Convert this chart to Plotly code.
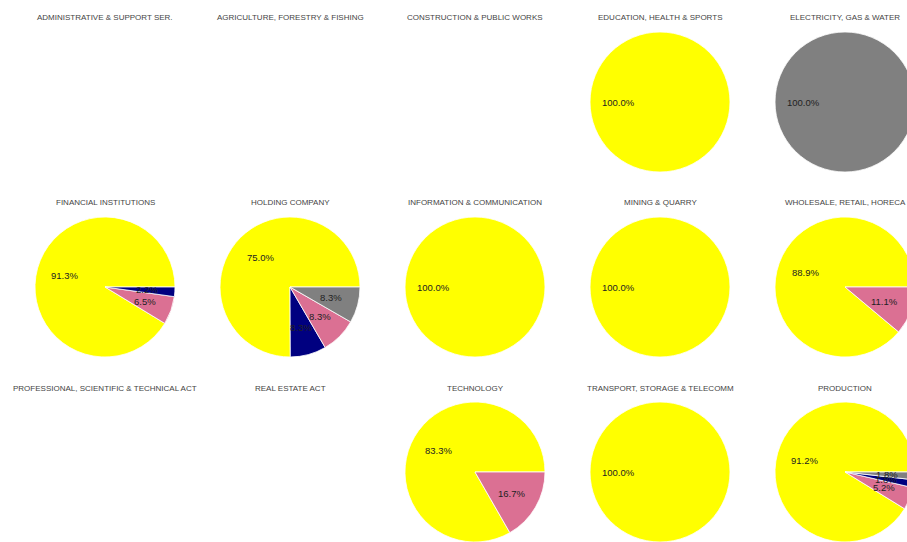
import math
import plotly.graph_objects as go

# ---------------- data ----------------
sectors = [
    "ADMINISTRATIVE & SUPPORT SER.", "AGRICULTURE, FORESTRY & FISHING", "CONSTRUCTION & PUBLIC WORKS",
    "EDUCATION, HEALTH & SPORTS", "ELECTRICITY, GAS & WATER",
    "FINANCIAL INSTITUTIONS", "HOLDING COMPANY", "INFORMATION & COMMUNICATION",
    "MINING & QUARRY", "WHOLESALE, RETAIL, HORECA",
    "PROFESSIONAL, SCIENTIFIC & TECHNICAL ACT", "REAL ESTATE ACT", "TECHNOLOGY",
    "TRANSPORT, STORAGE & TELECOMM", "PRODUCTION",
]
categories = ["A", "B", "C", "D"]
category_colors = ["#ffff00", "#000080", "#db7093", "#808080"]
share_A = [0, 0, 0, 100.0, 0, 91.3, 75.0, 100.0, 100.0, 88.9, 0, 0, 83.3, 100.0, 91.2]
share_B = [0, 0, 0, 0, 0, 2.2, 8.3, 0, 0, 0, 0, 0, 0, 0, 1.8]
share_C = [0, 0, 0, 0, 0, 6.5, 8.3, 0, 0, 11.1, 0, 0, 16.7, 0, 5.2]
share_D = [0, 0, 0, 0, 100.0, 0, 8.3, 0, 0, 0, 0, 0, 0, 0, 1.8]

# ---------------- layout geometry ----------------
W, H = 915, 542
N_COLS = 5
X0, Y0, STEP, R = 105, 102, 185, 70
TITLE_GAP = 84

fig = go.Figure()
annotations = []
shares = [share_A, share_B, share_C, share_D]

for k, name in enumerate(sectors):
    i, j = divmod(k, N_COLS)
    cx = X0 + STEP * j
    cy = Y0 + STEP * i
    annotations.append(dict(
        x=cx / W, y=1 - (cy - TITLE_GAP) / H, xref="paper", yref="paper",
        text=name, showarrow=False, xanchor="center", yanchor="middle",
        font=dict(family="Liberation Sans, Arial", size=8, color="#444444"),
    ))
    vals = [s[k] for s in shares]
    if sum(vals) == 0:
        continue
    # first category first, then the rest by descending share
    rest = sorted(range(1, len(categories)), key=lambda c: -vals[c])
    order = [0] + rest
    order = [c for c in order if vals[c] > 0]
    labels = [categories[c] for c in order]
    values = [vals[c] for c in order]
    colors = [category_colors[c] for c in order]
    total = sum(values)
    # start at 3 o'clock, going counterclockwise
    rot = 90 - 360 * values[0] / total
    if rot <= -360:
        rot += 360
    fig.add_trace(go.Pie(
        labels=labels, values=values, sort=False, direction="counterclockwise",
        rotation=rot, textinfo="none", hoverinfo="label+percent",
        marker=dict(colors=colors, line=dict(color="white", width=0.8)),
        domain=dict(x=[(cx - R) / W, min(1, (cx + R) / W)],
                    y=[max(0, 1 - (cy + R) / H), 1 - (cy - R) / H]),
        showlegend=False,
    ))
    cum = 0.0
    for v in values:
        ang = math.radians((cum + v / 2) / total * 360)
        cum += v
        tx = cx + 0.6 * R * math.cos(ang)
        ty = cy - 0.6 * R * math.sin(ang)
        annotations.append(dict(
            x=tx / W, y=1 - ty / H, xref="paper", yref="paper",
            text=f"{v:.1f}%", showarrow=False, xanchor="center", yanchor="middle",
            font=dict(family="Liberation Sans, Arial", size=9.5, color="#222222"),
        ))

fig.update_layout(
    width=W, height=H,
    margin=dict(l=0, r=0, t=0, b=0),
    paper_bgcolor="white", plot_bgcolor="white",
    annotations=annotations,
)
fig.write_html(
    "out.html",
    config={"displayModeBar": False},
    post_script="document.body.style.margin='0';document.body.style.overflow='hidden';",
)
